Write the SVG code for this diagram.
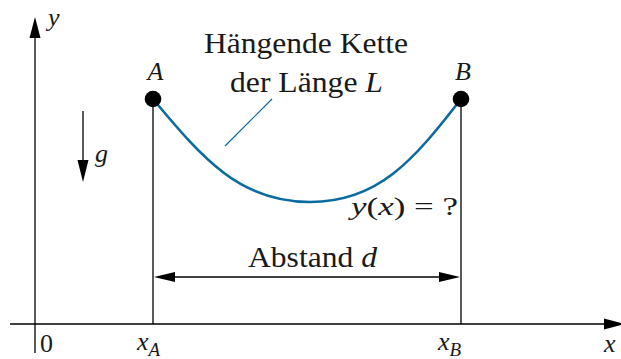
<svg xmlns="http://www.w3.org/2000/svg" width="621" height="359" viewBox="0 0 621 359">
<style>
.ln{stroke:#000;stroke-width:1.3;fill:none}
.hd{fill:#000;stroke:none}
.t{font-family:"Liberation Serif","Times New Roman",serif;fill:#1a1a1a}
.txt{font-size:29px}
.m{font-size:26px;font-style:italic}
.sub{font-size:19px;font-style:italic}
.blue{stroke:#0b6aa0;fill:none}
</style>
<rect width="621" height="359" fill="#fff"/>
<g id="connectors">
  <line class="ln" x1="35" y1="353" x2="35" y2="36"/>
  <polygon class="hd" points="35,17 29.5,38 40.5,38"/>
  <line class="ln" x1="10" y1="324" x2="606" y2="324"/>
  <polygon class="hd" points="625,324 604,318.5 604,329.5"/>
  <line class="ln" x1="153" y1="99" x2="153" y2="324"/>
  <line class="ln" x1="461" y1="99" x2="461" y2="324"/>
  <line class="ln" x1="170" y1="277" x2="444" y2="277"/>
  <polygon class="hd" points="154,277 175,272 175,282"/>
  <polygon class="hd" points="460,277 439,272 439,282"/>
  <line class="ln" x1="83" y1="111" x2="83" y2="162"/>
  <polygon class="hd" points="83,182 77.5,160 88.5,160"/>
  <line class="blue" stroke-width="1.2" x1="272" y1="99" x2="225" y2="146"/>
</g>
<g id="chain">
  <path class="blue" stroke-width="2.6" d="M153,99 C203,159 240,202 310,202 C378,202 413,161 461,99"/>
</g>
<g id="nodeA">
  <circle cx="153" cy="99" r="8.3" fill="#000"/>
  <text class="t m" x="155.5" y="80" text-anchor="middle">A</text>
</g>
<g id="nodeB">
  <circle cx="461" cy="99" r="8.3" fill="#000"/>
  <text class="t m" x="463" y="80" text-anchor="middle">B</text>
</g>
<g id="labels">
  <text class="t txt" x="204" y="53" textLength="204" lengthAdjust="spacingAndGlyphs">Hängende Kette</text>
  <text class="t txt" x="230" y="92" textLength="153" lengthAdjust="spacingAndGlyphs">der Länge <tspan font-style="italic">L</tspan></text>
  <text class="t txt" x="248" y="267" textLength="129" lengthAdjust="spacingAndGlyphs">Abstand <tspan font-style="italic">d</tspan></text>
  <text class="t m" font-size="27" x="351" y="215" textLength="107" lengthAdjust="spacingAndGlyphs">y<tspan font-style="normal">(</tspan>x<tspan font-style="normal">) = ?</tspan></text>
  <text class="t m" x="48" y="26">y</text>
  <text class="t m" x="95" y="162">g</text>
  <text class="t m" x="604" y="352">x</text>
  <text class="t" font-size="26" x="40" y="352">0</text>
  <text class="t m" x="137" y="350">x<tspan class="sub" dy="6">A</tspan></text>
  <text class="t m" x="438" y="350">x<tspan class="sub" dy="6">B</tspan></text>
</g>
</svg>
